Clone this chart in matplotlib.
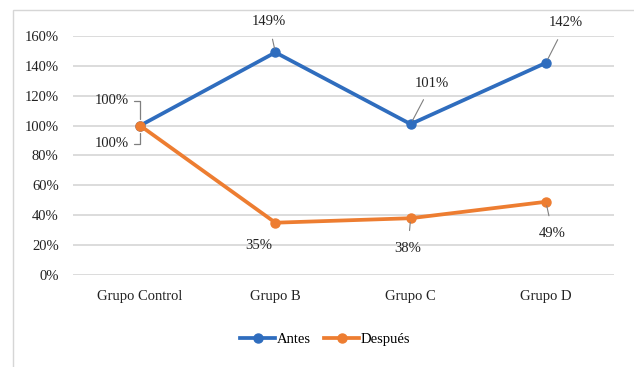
import matplotlib.pyplot as plt
from matplotlib.patches import Rectangle
from matplotlib.ticker import FuncFormatter

# Datos
grupos = ['Grupo Control', 'Grupo B', 'Grupo C', 'Grupo D']
antes = [100, 149, 101, 142]
despues = [100, 35, 38, 49]

# Posiciones de las etiquetas (x en categorias, y en %)
pos_antes = [(-0.21, 116.5), (0.95, 169.5), (2.16, 128.5), (3.15, 168.7)]
pos_despues = [(-0.21, 88.0), (0.88, 20.0), (1.98, 18.0), (3.05, 28.0)]

plt.rcParams['font.family'] = ['Liberation Serif', 'DejaVu Serif']

azul = '#2F6DBE'
naranja = '#ED7D31'
texto = '#222222'

fig = plt.figure(figsize=(6.34, 3.67), dpi=100)
ax = fig.add_axes([0.1144, 0.2507, 0.8533, 0.6513])

# Marco del grafico
fig.patches.append(Rectangle((13 / 634, -0.2), 1.2, 1.2 - 10 / 367,
                             transform=fig.transFigure, fill=False,
                             edgecolor='#D6D6D6', linewidth=1.0))

x = range(len(grupos))
ax.plot(x, antes, color=azul, linewidth=2.7, marker='o', markersize=6.5,
        label='Antes', zorder=3)
ax.plot(x, despues, color=naranja, linewidth=2.7, marker='o', markersize=6.5,
        label='Después', zorder=3)

gris = '#7F7F7F'
for serie, posiciones in ((antes, pos_antes), (despues, pos_despues)):
    for i, (v, p) in enumerate(zip(serie, posiciones)):
        if i == 0:
            flecha = dict(arrowstyle='-', color=gris, lw=0.9, shrinkA=2, shrinkB=5,
                          connectionstyle='angle,angleA=0,angleB=90,rad=0')
        elif serie is despues and i == 1:
            flecha = None
        else:
            flecha = dict(arrowstyle='-', color=gris, lw=0.8, shrinkA=6, shrinkB=3)
        ax.annotate(f'{v}%', xy=(i, v), xytext=p, ha='center', va='center',
                    fontsize=10.5, color=texto, arrowprops=flecha)

ax.set_xlim(-0.5, 3.5)
ax.set_ylim(0, 160)
ax.set_yticks(range(0, 161, 20))
ax.yaxis.set_major_formatter(FuncFormatter(lambda v, _: f'{v:.0f}%'))
ax.set_xticks(list(x))
ax.set_xticklabels(grupos)
ax.tick_params(axis='both', length=0, labelsize=10.5, colors=texto)
ax.tick_params(axis='x', pad=11)
ax.tick_params(axis='y', pad=10)
ax.grid(axis='y', color='#D9D9D9', linewidth=1.3)
ax.set_axisbelow(True)
for s in ax.spines.values():
    s.set_visible(False)

fig.legend(loc='center', bbox_to_anchor=(0.513, 0.074), ncol=2, frameon=False,
           fontsize=10.5, handlelength=2.4, columnspacing=0.9, handletextpad=0.1)

plt.savefig('out.png', dpi=100)
